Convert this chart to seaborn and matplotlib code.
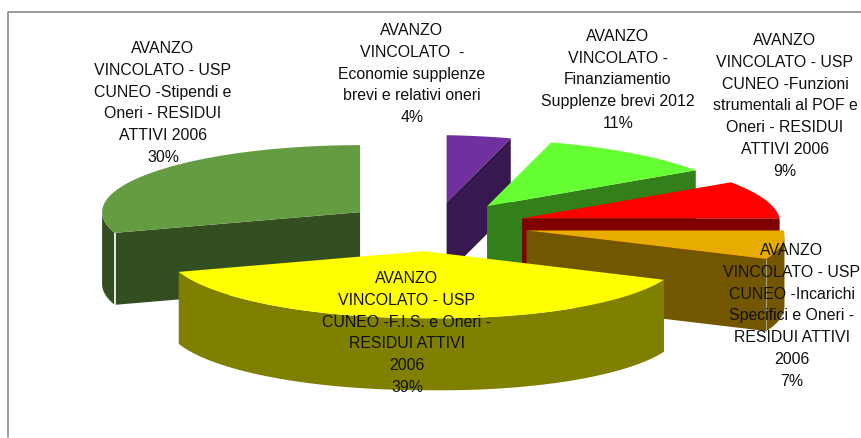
import numpy as np
import pandas as pd
import matplotlib
matplotlib.use('Agg')
import matplotlib.pyplot as plt
import seaborn as sns

# dati del grafico
etichette = [
    'AVANZO\nVINCOLATO  -\nEconomie supplenze\nbrevi e relativi oneri',
    'AVANZO\nVINCOLATO -\nFinanziamentio\nSupplenze brevi 2012',
    'AVANZO\nVINCOLATO - USP\nCUNEO -Funzioni\nstrumentali al POF e\nOneri - RESIDUI\nATTIVI 2006',
    'AVANZO\nVINCOLATO - USP\nCUNEO -Incarichi\nSpecifici e Oneri -\nRESIDUI ATTIVI\n2006',
    'AVANZO\nVINCOLATO - USP\nCUNEO -F.I.S. e Oneri -\nRESIDUI ATTIVI\n2006',
    'AVANZO\nVINCOLATO - USP\nCUNEO -Stipendi e\nOneri - RESIDUI\nATTIVI 2006',
]
valori = [4, 11, 9, 7, 39, 30]
colori = ['#7030A0', '#66FF33', '#FF0000', '#E6AC00', '#FFFF00', '#669C41']

# posizione del testo (pixel) e prospettiva della torta
pos_testo = [(412, 74), (618, 80), (785, 106), (792, 316), (407, 333), (163, 103)]
CX, CY = 435, 227.6
RX, RY = 258, 67
ESPLOSO_X, ESPLOSO_Y = 92.6, 24.6
SPESSORE = 72
INCLINA = 0.063  # il lato destro della torta scende un po' nell'originale

df = pd.DataFrame({'etichetta': etichette, 'valore': valori, 'colore': colori})
df['fine'] = df['valore'].cumsum() / df['valore'].sum() * 2 * np.pi
df['inizio'] = df['fine'] - df['valore'] / df['valore'].sum() * 2 * np.pi
df['medio'] = (df['inizio'] + df['fine']) / 2

sns.set_theme(style='white')
plt.rcParams['font.family'] = ['Liberation Sans', 'DejaVu Sans']

fig, ax = plt.subplots(figsize=(8.62, 4.39), dpi=100)
ax.set_position([0, 0, 1, 1])
ax.set_xlim(0, 862)
ax.set_ylim(439, 0)
ax.axis('off')

# cornice
ax.plot([8.5, 8.5, 862], [438, 13, 13], color='#8c8c8c', lw=1.2)


def arco(x0, y0, a, b, n=60):
    t = np.linspace(a, b, n)
    return x0 + RX * np.sin(t), y0 - RY * (np.cos(t) - INCLINA * np.clip(np.sin(t), 0, None))


def scuro(c):
    return tuple(v / 2 for v in matplotlib.colors.to_rgb(c))


# dietro -> davanti: verde scuro, viola, verde, rosso, arancio, giallo
ordine = [5, 0, 1, 2, 3, 4]
for k, i in enumerate(ordine):
    r = df.iloc[i]
    x0 = CX + ESPLOSO_X * np.sin(r['medio'])
    y0 = CY - ESPLOSO_Y * np.cos(r['medio'])
    if i == 4:
        x0 -= 8  # la fetta gialla sta un po' a sinistra nell'originale
    col = scuro(r['colore'])

    # facce di taglio visibili
    for ang in (r['inizio'], r['fine']):
        si = np.sin(ang)
        if (ang == r['fine'] and si > 1e-6) or (ang == r['inizio'] and si < -1e-6):
            xe, ye = arco(x0, y0, ang, ang, 1)
            ax.fill([x0, xe[0], xe[0], x0], [y0, ye[0], ye[0] + SPESSORE, y0 + SPESSORE],
                    color=col, lw=0, zorder=k + 1)

    # lato esterno: solo la parte rivolta verso chi guarda
    a = max(r['inizio'], np.pi / 2)
    b = min(r['fine'], 3 * np.pi / 2)
    if b > a:
        xa, ya = arco(x0, y0, a, b)
        ax.fill(np.r_[xa, xa[::-1]], np.r_[ya, ya[::-1] + SPESSORE],
                color=col, lw=0, zorder=k + 1)

    # spigolo chiaro fra taglio e lato
    if i == 5:
        xe, ye = arco(x0, y0, r['inizio'], r['inizio'], 1)
        ax.plot([xe[0], xe[0]], [ye[0], ye[0] + SPESSORE], color='white', lw=1.2, zorder=k + 1.1)
    if i == 3:
        xe, ye = arco(x0, y0, r['fine'], r['fine'], 1)
        ax.plot([xe[0], xe[0]], [ye[0], ye[0] + SPESSORE], color='#b0a080', lw=0.8, zorder=k + 1.1)

    # faccia superiore
    xt, yt = arco(x0, y0, r['inizio'], r['fine'])
    ax.fill(np.r_[x0, xt], np.r_[y0, yt], color=r['colore'], lw=0, zorder=k + 1.2)

# etichette con la percentuale
for i, r in df.iterrows():
    x, y = pos_testo[i]
    ax.text(x, y, f"{r['etichetta']}\n{r['valore']}%", ha='center', va='center',
            fontsize=11.4, linespacing=1.57, color='#111111', zorder=20)

fig.savefig('out.png', dpi=100)
